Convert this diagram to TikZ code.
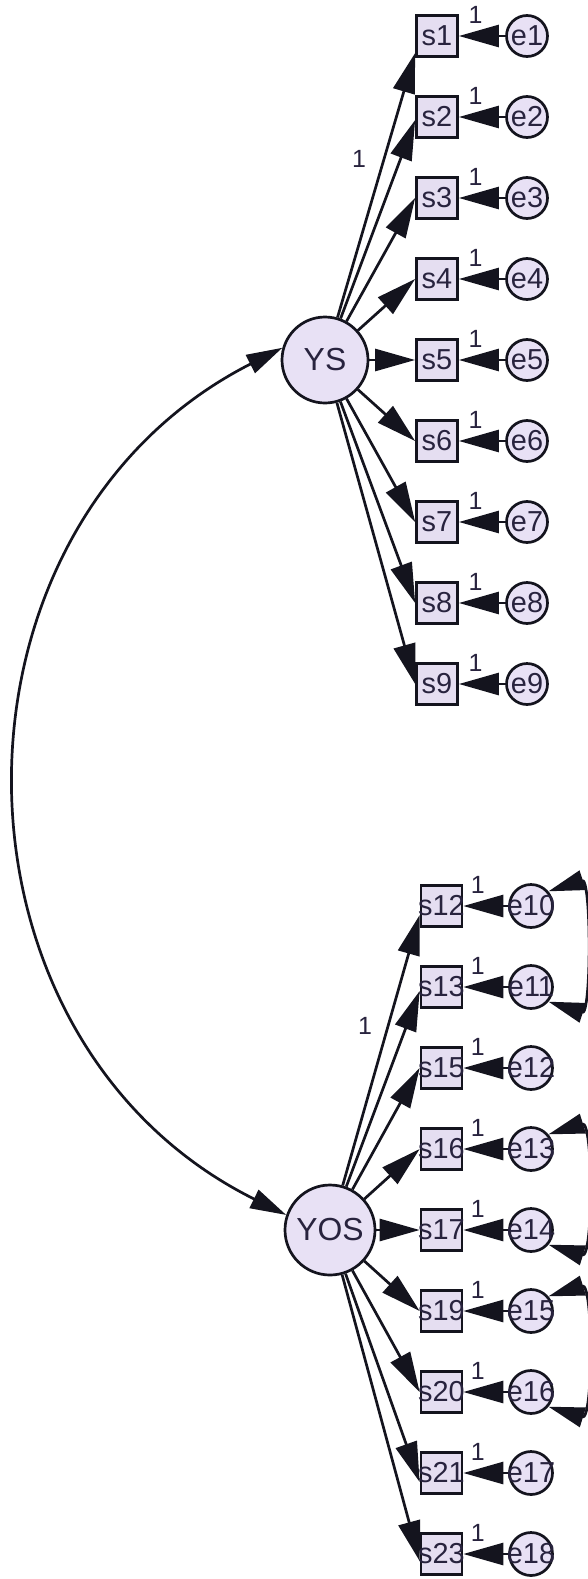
\documentclass[tikz,border=0pt]{standalone}
\usepackage{fontspec}
\setmainfont{Liberation Sans}
\usetikzlibrary{arrows.meta}

\definecolor{latfill}{RGB}{232,225,245}
\definecolor{obsfill}{RGB}{229,222,241}
\definecolor{ink}{RGB}{20,20,30}
\definecolor{txt}{RGB}{40,35,62}

\begin{document}
\begin{tikzpicture}[x=1bp, y=-1bp, line width=2.7bp,
    latent/.style={circle, draw=ink, fill=latfill, inner sep=0pt, text=txt, font=\fontsize{32}{32}\selectfont},
    obs/.style={rectangle, draw=ink, fill=obsfill, minimum size=41bp, inner sep=0pt, text=txt, font=\fontsize{29}{29}\selectfont},
    err/.style={circle, draw=ink, fill=latfill, minimum size=41bp, inner sep=0pt, text=txt, font=\fontsize{29}{29}\selectfont},
    load/.style={draw=ink, -{Triangle[length=40bp,width=22bp]}},
    covar/.style={draw=ink, {Triangle[length=36bp,width=20bp]}-{Triangle[length=36bp,width=20bp]}},
    fixlbl/.style={font=\fontsize{25}{25}\selectfont, text=txt, inner sep=0pt}]
\useasboundingbox (0,0) rectangle (588,1579);
\clip (0,0) rectangle (588,1579);

\node[latent, minimum size=86bp] (YS) at (325,360) {YS};
\node[latent, minimum size=90bp] (YOS) at (330,1230) {YOS};

% YS block
\foreach \i/\d in {1/17,2/3,3/0,4/0,5/0,6/0,7/0,8/0,9/0}{
    \node[obs] (s\i) at (437,{36+81*(\i-1)}) {\makebox[0pt]{s\i}};
    \node[err] (e\i) at (527,{36+81*(\i-1)}) {\makebox[0pt]{e\i}};
    \draw[load] (YS) -- ([yshift=-\d bp]s\i.west);
    \draw[load] (e\i) -- (s\i) node[fixlbl, pos=0.64, yshift=21bp] {1};
}
\path (YS) -- ([yshift=-17bp]s1.west) node[fixlbl, pos=0.6, xshift=-25bp] {1};

% YOS block
\foreach \s/\d [count=\k] in {12/9,13/4,15/0,16/0,17/0,19/0,20/0,21/9,23/7}{
    \pgfmathtruncatemacro\e{9+\k}
    \node[obs] (s\s) at (441.5,{906+81*(\k-1)}) {\makebox[0pt]{s\s}};
    \node[err, minimum size=43bp] (e\e) at (531,{906+81*(\k-1)}) {\makebox[0pt]{e\e}};
    \draw[load] (YOS) -- ([yshift=-\d bp]s\s.west);
    \draw[load] (e\e) -- (s\s) node[fixlbl, pos=0.68, yshift=21bp] {1};
}
\path (YOS) -- ([yshift=-9bp]s12.west) node[fixlbl, pos=0.59, xshift=-23bp] {1};

% covariances
\draw[covar] (YS.164) .. controls (-70,527) and (-68,1039) .. (YOS.161);
\draw[covar] (e10.40) .. controls +(43,-14) and +(43,14) .. (e11.-40);
\draw[covar] (e13.40) .. controls +(45,-14) and +(45,14) .. (e14.-40);
\draw[covar] (e15.40) .. controls +(45,-14) and +(45,14) .. (e16.-40);
\end{tikzpicture}
\end{document}
